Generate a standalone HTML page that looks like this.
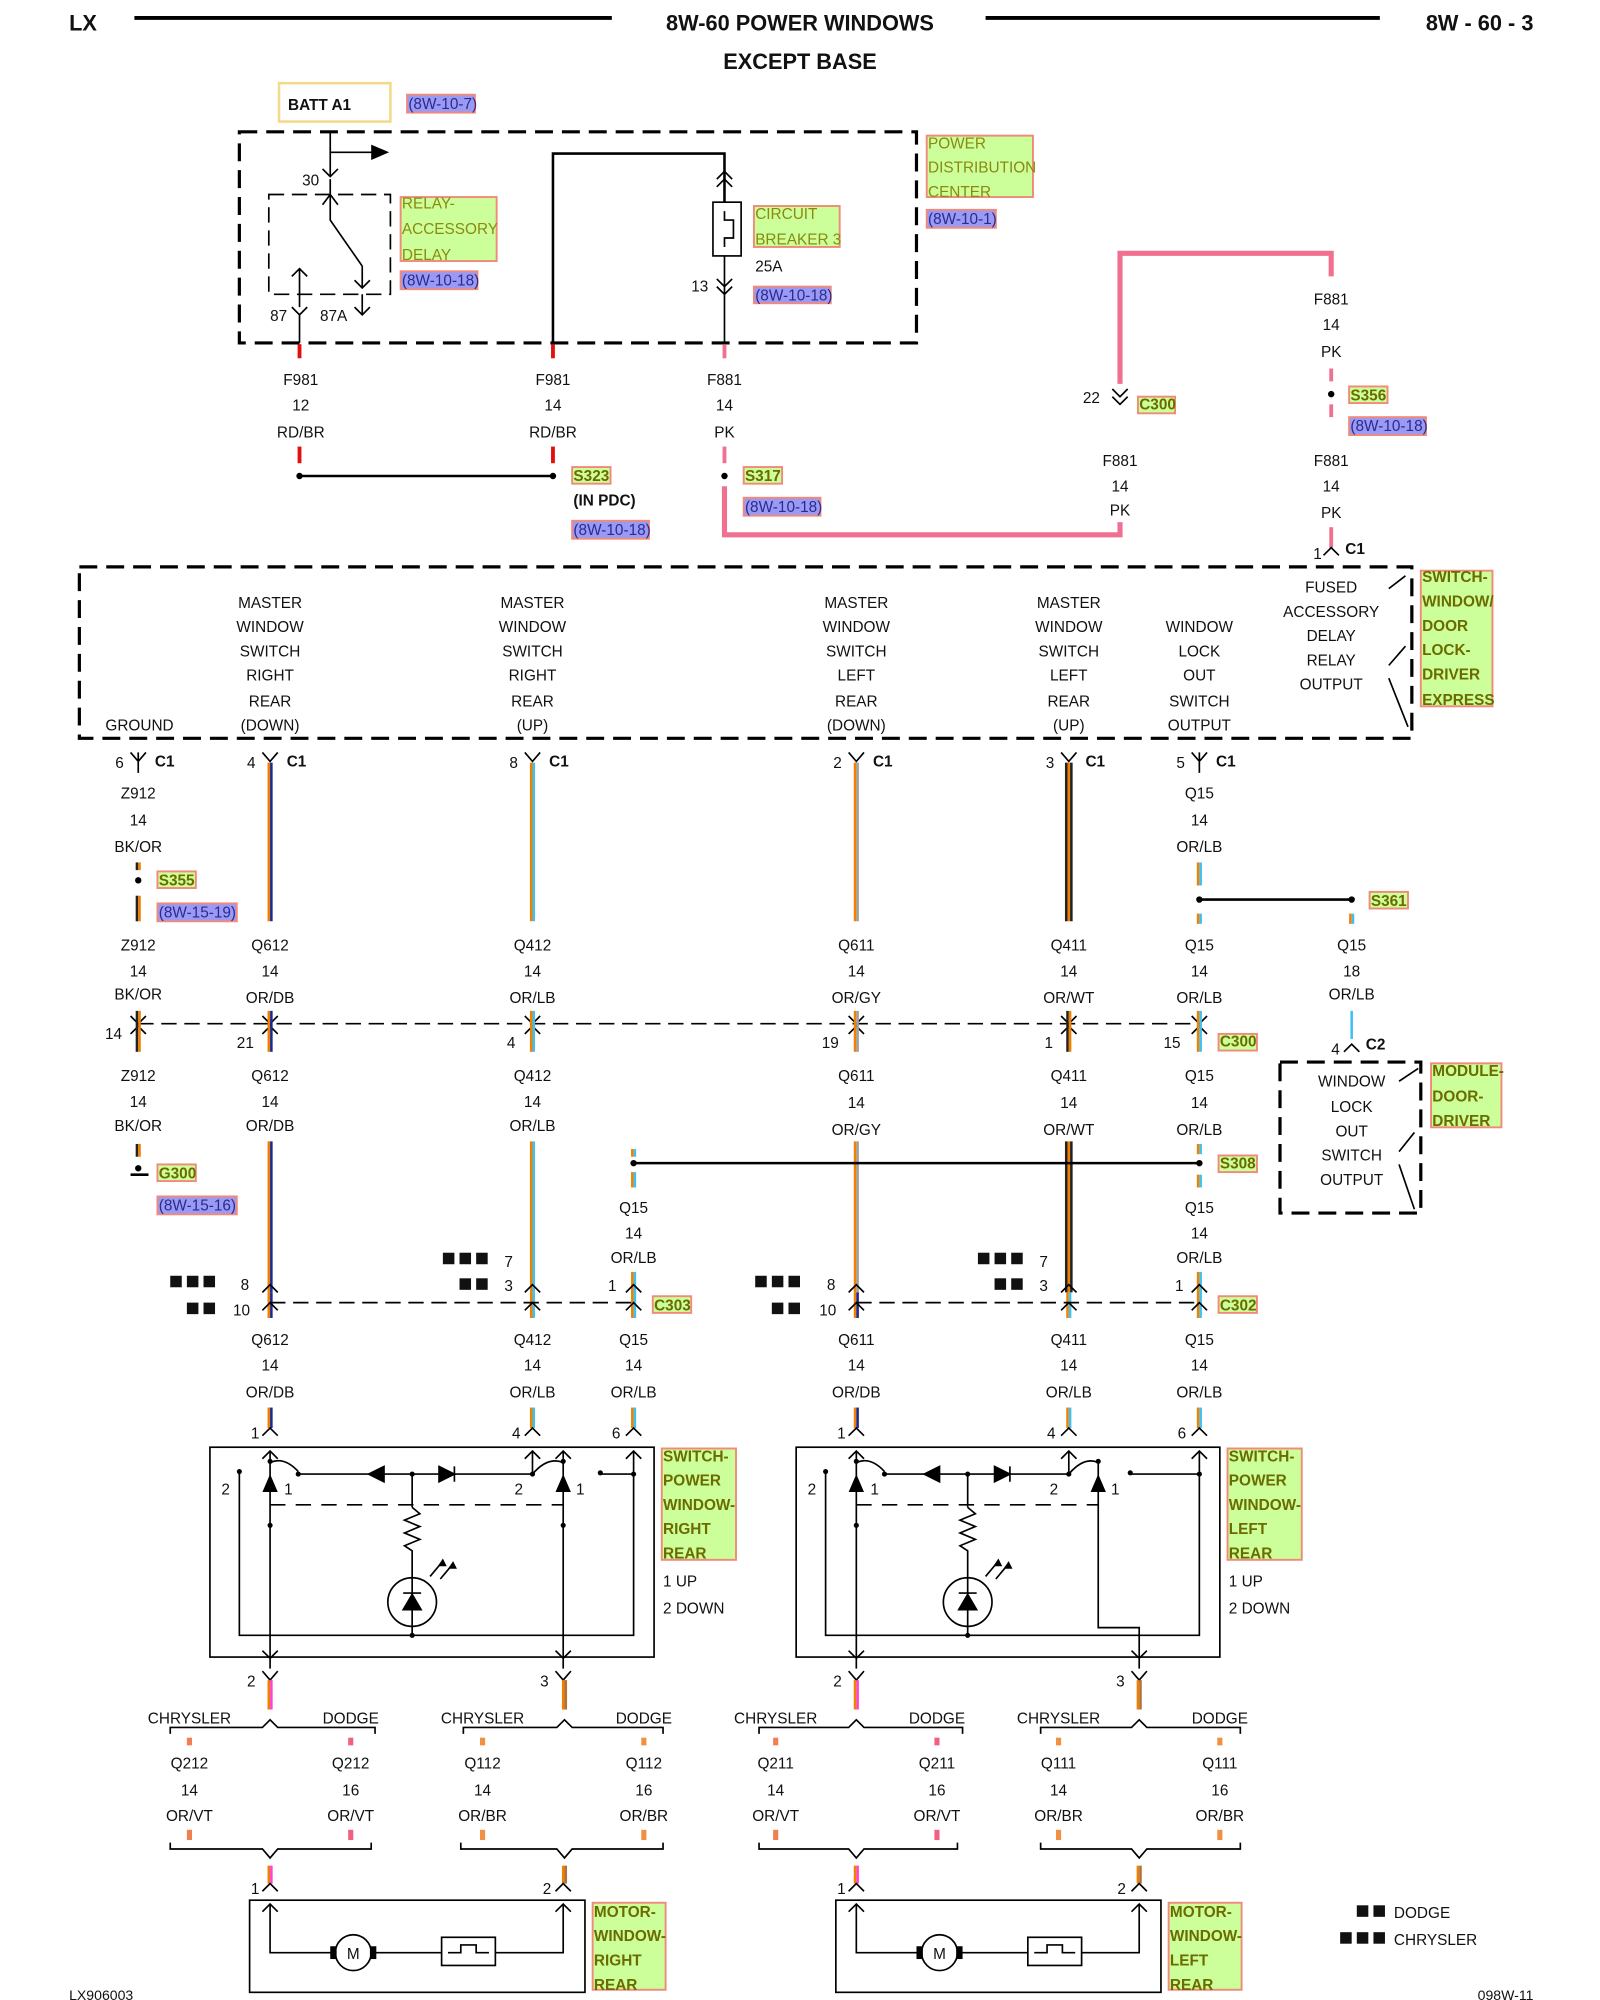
<!DOCTYPE html>
<html><head><meta charset="utf-8"><style>
html,body{margin:0;padding:0;background:#fff}
svg{display:block}
text{font-family:"Liberation Sans",sans-serif;font-size:12px;fill:#111}
.b{font-weight:bold}
.c{text-anchor:middle}
.g{fill:#ccff99;stroke:#f08a7a;stroke-width:1.5}
.p{fill:#9a9af5;stroke:#f08a7a;stroke-width:1.5}
.gt{fill:#8a8a10}
.gb{fill:#6b6b00;font-weight:bold}
.pt{fill:#2a2a90}
.w{stroke:#000;stroke-width:2;fill:none}
.t{stroke:#000;stroke-width:1.3;fill:none}
.d{stroke:#000;stroke-width:2.5;fill:none;stroke-dasharray:14 7}
.dt{stroke:#000;stroke-width:1.3;fill:none;stroke-dasharray:12 6}
.pk{stroke:#f07090;stroke-width:4;fill:none}
</style></head><body>
<svg width="1600" height="2000" viewBox="0 0 1250 1563" preserveAspectRatio="none" xmlns="http://www.w3.org/2000/svg">
<rect width="1250" height="1563" fill="#fff"/>
<text x="54" y="24" class="b" style="font-size:17px">LX</text>
<line x1="105" y1="14" x2="478" y2="14" stroke="#000" stroke-width="3"/>
<text x="625" y="24" class="b c" style="font-size:17px">8W-60 POWER WINDOWS</text>
<line x1="770" y1="14" x2="1078" y2="14" stroke="#000" stroke-width="3"/>
<text x="1198" y="24" class="b" style="font-size:17px;text-anchor:end">8W - 60 - 3</text>
<text x="625" y="54" class="b c" style="font-size:17px">EXCEPT BASE</text>

<rect x="218" y="65" width="87" height="30" fill="none" stroke="#f5d98a" stroke-width="2"/>
<text x="225" y="86" class="b">BATT A1</text>
<rect x="318" y="74" width="53" height="14" class="p"/><text x="319" y="85" class="pt">(8W-10-7)</text>

<rect x="187" y="103" width="529" height="165" class="d"/>
<rect x="724" y="106" width="83" height="48" class="g"/>
<text x="725" y="116" class="gt">POWER</text><text x="725" y="135" class="gt">DISTRIBUTION</text><text x="725" y="154" class="gt">CENTER</text>
<rect x="724" y="164" width="54" height="14" class="p"/><text x="725" y="175" class="pt">(8W-10-1)</text>
<path class="t" d="M258 103V138 M258 119H295"/><path d="M290 113L304 119L290 125Z"/>
<path class="t" d="M252 132L258 138L264 132"/>
<text x="236" y="145">30</text>
<rect x="210" y="152" width="95" height="78" class="dt"/>
<path class="t" d="M258 140V172L283 208 M252 160L258 152L264 160 M234 210V240 M228 216L234 210L240 216 M283 208V225 M277 219L283 225L289 219 M283 230V246"/>
<path class="t" d="M228 240L234 246L240 240 M234 246V268 M277 240L283 246L289 240"/>
<text x="211" y="251">87</text><text x="250" y="251">87A</text>
<rect x="313" y="154" width="75" height="50" class="g"/>
<text x="314" y="163" class="gt">RELAY-</text><text x="314" y="183" class="gt">ACCESSORY</text><text x="314" y="203" class="gt">DELAY</text>
<rect x="313" y="212" width="60" height="14" class="p"/><text x="314" y="223" class="pt">(8W-10-18)</text>
<path class="w" d="M432 268V120H566V158"/>
<path class="t" d="M560 140L566 134L572 140 M560 146L566 140L572 146"/>
<rect x="557" y="158" width="22" height="42" class="t"/>
<path class="t" d="M566 165V172H573V186H566V193 M566 200V230 M560 218L566 224L572 218 M560 224L566 230L572 224 M566 230V268"/>
<text x="540" y="228">13</text><text x="590" y="212">25A</text>
<rect x="589" y="161" width="67" height="32" class="g"/>
<text x="590" y="171" class="gt">CIRCUIT</text><text x="590" y="191" class="gt">BREAKER 3</text>
<rect x="589" y="224" width="60" height="13" class="p"/><text x="590" y="235" class="pt">(8W-10-18)</text>
<line x1="234" y1="269" x2="234" y2="280" stroke="#e01010" stroke-width="3"/>
<line x1="432" y1="269" x2="432" y2="280" stroke="#e01010" stroke-width="3"/>
<line x1="566" y1="269" x2="566" y2="280" stroke="#f07090" stroke-width="3"/>
<text x="235" y="301" class="c">F981</text><text x="235" y="321" class="c">12</text><text x="235" y="342" class="c">RD/BR</text>
<text x="432" y="301" class="c">F981</text><text x="432" y="321" class="c">14</text><text x="432" y="342" class="c">RD/BR</text>
<text x="566" y="301" class="c">F881</text><text x="566" y="321" class="c">14</text><text x="566" y="342" class="c">PK</text>
<line x1="234" y1="349" x2="234" y2="362" stroke="#e01010" stroke-width="3"/>
<line x1="432" y1="349" x2="432" y2="362" stroke="#e01010" stroke-width="3"/>
<line x1="566" y1="349" x2="566" y2="362" stroke="#f07090" stroke-width="3"/>
<line x1="234" y1="372" x2="432" y2="372" class="w"/>
<circle cx="234" cy="372" r="2.5"/><circle cx="432" cy="372" r="2.5"/><circle cx="566" cy="372" r="2.5"/>
<rect x="447" y="365" width="30" height="13" class="g"/><text x="448" y="376" class="gb">S323</text>
<text x="448" y="395" class="b">(IN PDC)</text>
<rect x="447" y="407" width="60" height="14" class="p"/><text x="448" y="418" class="pt">(8W-10-18)</text>
<rect x="581" y="365" width="30" height="13" class="g"/><text x="582" y="376" class="gb">S317</text>
<rect x="581" y="389" width="60" height="14" class="p"/><text x="582" y="400" class="pt">(8W-10-18)</text>
<path class="pk" d="M566 380V418H875V408"/>
<path class="pk" d="M875 300V198H1040V216"/>
<path class="t" d="M869 304L875 310L881 304 M869 310L875 316L881 310"/>
<text x="846" y="315">22</text>
<rect x="889" y="310" width="29" height="13" class="g"/><text x="890" y="320" class="gb">C300</text>
<text x="875" y="364" class="c">F881</text><text x="875" y="384" class="c">14</text><text x="875" y="403" class="c">PK</text>
<text x="1040" y="238" class="c">F881</text><text x="1040" y="258" class="c">14</text><text x="1040" y="279" class="c">PK</text>
<line x1="1040" y1="288" x2="1040" y2="298" stroke="#f07090" stroke-width="3"/>
<circle cx="1040" cy="308" r="2.5"/>
<line x1="1040" y1="316" x2="1040" y2="326" stroke="#f07090" stroke-width="3"/>
<rect x="1054" y="302" width="30" height="13" class="g"/><text x="1055" y="313" class="gb">S356</text>
<rect x="1054" y="326" width="60" height="14" class="p"/><text x="1055" y="337" class="pt">(8W-10-18)</text>
<text x="1040" y="364" class="c">F881</text><text x="1040" y="384" class="c">14</text><text x="1040" y="405" class="c">PK</text>
<line x1="1040" y1="412" x2="1040" y2="428" stroke="#f07090" stroke-width="3"/>
<path class="t" d="M1034 434L1040 428L1046 434"/>
<text x="1026" y="437">1</text><text x="1051" y="433" class="b">C1</text>

<rect x="62" y="443" width="1041" height="134" class="d"/>
<path class="t" d="M1085 460L1098 450 M1085 520L1098 505 M1085 530L1100 568"/>
<rect x="1110" y="446" width="56" height="106" class="g"/>
<text x="1111" y="455" class="gb">SWITCH-</text><text x="1111" y="474" class="gb">WINDOW/</text><text x="1111" y="493" class="gb">DOOR</text><text x="1111" y="512" class="gb">LOCK-</text><text x="1111" y="531" class="gb">DRIVER</text><text x="1111" y="551" class="gb">EXPRESS</text>
<text x="109" y="571" class="c">GROUND</text>
<text x="211" y="475" class="c">MASTER</text><text x="211" y="494" class="c">WINDOW</text><text x="211" y="513" class="c">SWITCH</text><text x="211" y="532" class="c">RIGHT</text><text x="211" y="552" class="c">REAR</text><text x="211" y="571" class="c">(DOWN)</text>
<text x="416" y="475" class="c">MASTER</text><text x="416" y="494" class="c">WINDOW</text><text x="416" y="513" class="c">SWITCH</text><text x="416" y="532" class="c">RIGHT</text><text x="416" y="552" class="c">REAR</text><text x="416" y="571" class="c">(UP)</text>
<text x="669" y="475" class="c">MASTER</text><text x="669" y="494" class="c">WINDOW</text><text x="669" y="513" class="c">SWITCH</text><text x="669" y="532" class="c">LEFT</text><text x="669" y="552" class="c">REAR</text><text x="669" y="571" class="c">(DOWN)</text>
<text x="835" y="475" class="c">MASTER</text><text x="835" y="494" class="c">WINDOW</text><text x="835" y="513" class="c">SWITCH</text><text x="835" y="532" class="c">LEFT</text><text x="835" y="552" class="c">REAR</text><text x="835" y="571" class="c">(UP)</text>
<text x="937" y="494" class="c">WINDOW</text><text x="937" y="513" class="c">LOCK</text><text x="937" y="532" class="c">OUT</text><text x="937" y="552" class="c">SWITCH</text><text x="937" y="571" class="c">OUTPUT</text>
<text x="1040" y="463" class="c">FUSED</text><text x="1040" y="482" class="c">ACCESSORY</text><text x="1040" y="501" class="c">DELAY</text><text x="1040" y="520" class="c">RELAY</text><text x="1040" y="539" class="c">OUTPUT</text>
<path class="t" d="M102 588L108 595L114 588 M108 588V604 M205 588L211 595L217 588 M410 588L416 595L422 588 M663 588L669 595L675 588 M829 588L835 595L841 588 M931 588L937 595L943 588 M937 588V604"/>
<text x="90" y="600">6</text><text x="121" y="599" class="b">C1</text>
<text x="193" y="600">4</text><text x="224" y="599" class="b">C1</text>
<text x="398" y="600">8</text><text x="429" y="599" class="b">C1</text>
<text x="651" y="600">2</text><text x="682" y="599" class="b">C1</text>
<text x="817" y="600">3</text><text x="848" y="599" class="b">C1</text>
<text x="919" y="600">5</text><text x="950" y="599" class="b">C1</text>
<g stroke-width="2">
<line x1="210" y1="596" x2="210" y2="720" stroke="#f08000"/><line x1="212" y1="596" x2="212" y2="720" stroke="#1a2a90"/>
<line x1="415" y1="596" x2="415" y2="720" stroke="#f08000"/><line x1="417" y1="596" x2="417" y2="720" stroke="#40c0f0"/>
<line x1="668" y1="596" x2="668" y2="720" stroke="#f08000"/><line x1="670" y1="596" x2="670" y2="720" stroke="#a0a0a0"/>
<line x1="833" y1="596" x2="833" y2="720" stroke="#222"/><line x1="835" y1="596" x2="835" y2="720" stroke="#f08000"/><line x1="837" y1="596" x2="837" y2="720" stroke="#222"/>
<line x1="936" y1="674" x2="936" y2="692" stroke="#f08000"/><line x1="938" y1="674" x2="938" y2="692" stroke="#40c0f0"/>
<line x1="107" y1="674" x2="107" y2="680" stroke="#222"/><line x1="109" y1="674" x2="109" y2="680" stroke="#f08000"/>
<line x1="107" y1="700" x2="107" y2="720" stroke="#222"/><line x1="109" y1="700" x2="109" y2="720" stroke="#f08000"/>
<line x1="936" y1="714" x2="936" y2="722" stroke="#f08000"/><line x1="938" y1="714" x2="938" y2="722" stroke="#40c0f0"/>
<line x1="1055" y1="714" x2="1055" y2="722" stroke="#f08000"/><line x1="1057" y1="714" x2="1057" y2="722" stroke="#40c0f0"/>
</g>
<text x="108" y="624" class="c">Z912</text><text x="108" y="645" class="c">14</text><text x="108" y="666" class="c">BK/OR</text>
<text x="937" y="624" class="c">Q15</text><text x="937" y="645" class="c">14</text><text x="937" y="666" class="c">OR/LB</text>
<circle cx="108" cy="688" r="2.5"/>
<rect x="123" y="681" width="30" height="13" class="g"/><text x="124" y="692" class="gb">S355</text>
<rect x="123" y="706" width="62" height="14" class="p"/><text x="124" y="717" class="pt">(8W-15-19)</text>
<line x1="937" y1="703" x2="1056" y2="703" class="w"/><circle cx="937" cy="703" r="2.5"/><circle cx="1056" cy="703" r="2.5"/>
<rect x="1070" y="697" width="30" height="13" class="g"/><text x="1071" y="708" class="gb">S361</text>
<text x="108" y="743" class="c">Z912</text><text x="108" y="763" class="c">14</text><text x="108" y="781" class="c">BK/OR</text>
<text x="211" y="743" class="c">Q612</text><text x="211" y="763" class="c">14</text><text x="211" y="784" class="c">OR/DB</text>
<text x="416" y="743" class="c">Q412</text><text x="416" y="763" class="c">14</text><text x="416" y="784" class="c">OR/LB</text>
<text x="669" y="743" class="c">Q611</text><text x="669" y="763" class="c">14</text><text x="669" y="784" class="c">OR/GY</text>
<text x="835" y="743" class="c">Q411</text><text x="835" y="763" class="c">14</text><text x="835" y="784" class="c">OR/WT</text>
<text x="937" y="743" class="c">Q15</text><text x="937" y="763" class="c">14</text><text x="937" y="784" class="c">OR/LB</text>
<text x="1056" y="743" class="c">Q15</text><text x="1056" y="763" class="c">18</text><text x="1056" y="781" class="c">OR/LB</text>
<line x1="1056" y1="790" x2="1056" y2="812" stroke="#40c0f0" stroke-width="2"/>
<path class="t" d="M1050 822L1056 816L1062 822"/>
<text x="1040" y="824">4</text><text x="1067" y="820" class="b">C2</text>
<line x1="108" y1="800" x2="937" y2="800" class="dt"/>
<path class="t" d="M102 794L108 800L114 794 M102 808L108 802L114 808 M205 794L211 800L217 794 M205 808L211 802L217 808 M410 794L416 800L422 794 M410 808L416 802L422 808 M663 794L669 800L675 794 M663 808L669 802L675 808 M829 794L835 800L841 794 M829 808L835 802L841 808 M931 794L937 800L943 794 M931 808L937 802L943 808"/>
<g stroke-width="2">
<line x1="107" y1="790" x2="107" y2="822" stroke="#222"/><line x1="109" y1="790" x2="109" y2="822" stroke="#f08000"/>
<line x1="210" y1="790" x2="210" y2="822" stroke="#f08000"/><line x1="212" y1="790" x2="212" y2="822" stroke="#1a2a90"/>
<line x1="415" y1="790" x2="415" y2="822" stroke="#f08000"/><line x1="417" y1="790" x2="417" y2="822" stroke="#40c0f0"/>
<line x1="668" y1="790" x2="668" y2="822" stroke="#f08000"/><line x1="670" y1="790" x2="670" y2="822" stroke="#a0a0a0"/>
<line x1="834" y1="790" x2="834" y2="822" stroke="#222"/><line x1="836" y1="790" x2="836" y2="822" stroke="#f08000"/>
<line x1="936" y1="790" x2="936" y2="822" stroke="#f08000"/><line x1="938" y1="790" x2="938" y2="822" stroke="#40c0f0"/>
</g>
<text x="82" y="812">14</text><text x="185" y="819">21</text><text x="396" y="819">4</text><text x="642" y="819">19</text><text x="816" y="819">1</text><text x="909" y="819">15</text>
<rect x="952" y="808" width="30" height="13" class="g"/><text x="953" y="818" class="gb">C300</text>
<rect x="1000" y="830" width="110" height="118" class="d"/>
<text x="1056" y="849" class="c">WINDOW</text><text x="1056" y="869" class="c">LOCK</text><text x="1056" y="888" class="c">OUT</text><text x="1056" y="907" class="c">SWITCH</text><text x="1056" y="926" class="c">OUTPUT</text>
<path class="t" d="M1093 845L1108 835 M1093 900L1105 885 M1093 910L1105 945"/>
<rect x="1118" y="831" width="55" height="50" class="g"/>
<text x="1119" y="841" class="gb">MODULE-</text><text x="1119" y="861" class="gb">DOOR-</text><text x="1119" y="880" class="gb">DRIVER</text>
<text x="108" y="845" class="c">Z912</text><text x="108" y="865" class="c">14</text><text x="108" y="884" class="c">BK/OR</text>
<text x="211" y="845" class="c">Q612</text><text x="211" y="865" class="c">14</text><text x="211" y="884" class="c">OR/DB</text>
<text x="416" y="845" class="c">Q412</text><text x="416" y="865" class="c">14</text><text x="416" y="884" class="c">OR/LB</text>
<text x="669" y="845" class="c">Q611</text><text x="669" y="866" class="c">14</text><text x="669" y="887" class="c">OR/GY</text>
<text x="835" y="845" class="c">Q411</text><text x="835" y="866" class="c">14</text><text x="835" y="887" class="c">OR/WT</text>
<text x="937" y="845" class="c">Q15</text><text x="937" y="866" class="c">14</text><text x="937" y="887" class="c">OR/LB</text>
<g stroke-width="2">
<line x1="107" y1="894" x2="107" y2="904" stroke="#222"/><line x1="109" y1="894" x2="109" y2="904" stroke="#f08000"/>
<line x1="210" y1="892" x2="210" y2="1010" stroke="#f08000"/><line x1="212" y1="892" x2="212" y2="1010" stroke="#1a2a90"/>
<line x1="415" y1="892" x2="415" y2="1010" stroke="#f08000"/><line x1="417" y1="892" x2="417" y2="1010" stroke="#40c0f0"/>
<line x1="668" y1="892" x2="668" y2="1010" stroke="#f08000"/><line x1="670" y1="892" x2="670" y2="1010" stroke="#a0a0a0"/>
<line x1="833" y1="892" x2="833" y2="1010" stroke="#222"/><line x1="835" y1="892" x2="835" y2="1010" stroke="#f08000"/><line x1="837" y1="892" x2="837" y2="1010" stroke="#222"/>
<line x1="936" y1="894" x2="936" y2="902" stroke="#f08000"/><line x1="938" y1="894" x2="938" y2="902" stroke="#40c0f0"/>
<line x1="936" y1="918" x2="936" y2="928" stroke="#f08000"/><line x1="938" y1="918" x2="938" y2="928" stroke="#40c0f0"/>
<line x1="494" y1="898" x2="494" y2="904" stroke="#f08000"/><line x1="496" y1="898" x2="496" y2="904" stroke="#40c0f0"/>
<line x1="494" y1="916" x2="494" y2="928" stroke="#f08000"/><line x1="496" y1="916" x2="496" y2="928" stroke="#40c0f0"/>
<line x1="494" y1="994" x2="494" y2="1030" stroke="#f08000"/><line x1="496" y1="994" x2="496" y2="1030" stroke="#40c0f0"/>
<line x1="936" y1="994" x2="936" y2="1030" stroke="#f08000"/><line x1="938" y1="994" x2="938" y2="1030" stroke="#40c0f0"/>
<line x1="210" y1="1010" x2="210" y2="1030" stroke="#f08000"/><line x1="212" y1="1010" x2="212" y2="1030" stroke="#1a2a90"/>
<line x1="415" y1="1010" x2="415" y2="1030" stroke="#f08000"/><line x1="417" y1="1010" x2="417" y2="1030" stroke="#40c0f0"/>
<line x1="668" y1="1010" x2="668" y2="1030" stroke="#f08000"/><line x1="670" y1="1010" x2="670" y2="1030" stroke="#1a2a90"/>
<line x1="834" y1="1010" x2="834" y2="1030" stroke="#f08000"/><line x1="836" y1="1010" x2="836" y2="1030" stroke="#40c0f0"/>
</g>
<path class="w" d="M102 918H116"/><circle cx="108" cy="913" r="2.5"/>
<rect x="123" y="910" width="30" height="13" class="g"/><text x="124" y="921" class="gb">G300</text>
<rect x="123" y="935" width="62" height="14" class="p"/><text x="124" y="946" class="pt">(8W-15-16)</text>
<line x1="495" y1="909" x2="937" y2="909" class="w"/><circle cx="495" cy="909" r="2.5"/><circle cx="937" cy="909" r="2.5"/>
<rect x="952" y="903" width="30" height="13" class="g"/><text x="953" y="913" class="gb">S308</text>
<text x="495" y="948" class="c">Q15</text><text x="495" y="968" class="c">14</text><text x="495" y="987" class="c">OR/LB</text>
<text x="937" y="948" class="c">Q15</text><text x="937" y="968" class="c">14</text><text x="937" y="987" class="c">OR/LB</text>
<line x1="211" y1="1018" x2="495" y2="1018" class="dt"/><line x1="669" y1="1018" x2="937" y2="1018" class="dt"/>
<path class="t" d="M205 1010L211 1004L217 1010 M410 1010L416 1004L422 1010 M489 1010L495 1004L501 1010 M663 1010L669 1004L675 1010 M829 1010L835 1004L841 1010 M931 1010L937 1004L943 1010 M205 1024L211 1018L217 1024 M410 1024L416 1018L422 1024 M489 1024L495 1018L501 1024 M663 1024L669 1018L675 1024 M829 1024L835 1018L841 1024 M931 1024L937 1018L943 1024"/>
<text x="188" y="1008">8</text><text x="182" y="1028">10</text>
<text x="394" y="990">7</text><text x="394" y="1009">3</text><text x="475" y="1009">1</text>
<text x="646" y="1008">8</text><text x="640" y="1028">10</text>
<text x="812" y="990">7</text><text x="812" y="1009">3</text><text x="918" y="1009">1</text>
<rect x="510" y="1013" width="30" height="13" class="g"/><text x="511" y="1024" class="gb">C303</text>
<rect x="952" y="1013" width="30" height="13" class="g"/><text x="953" y="1024" class="gb">C302</text>
<g fill="#111">
<rect x="133" y="997" width="9" height="9"/><rect x="146" y="997" width="9" height="9"/><rect x="159" y="997" width="9" height="9"/>
<rect x="146" y="1018" width="9" height="9"/><rect x="159" y="1018" width="9" height="9"/>
<rect x="346" y="979" width="9" height="9"/><rect x="359" y="979" width="9" height="9"/><rect x="372" y="979" width="9" height="9"/>
<rect x="359" y="999" width="9" height="9"/><rect x="372" y="999" width="9" height="9"/>
<rect x="590" y="997" width="9" height="9"/><rect x="603" y="997" width="9" height="9"/><rect x="616" y="997" width="9" height="9"/>
<rect x="603" y="1018" width="9" height="9"/><rect x="616" y="1018" width="9" height="9"/>
<rect x="764" y="979" width="9" height="9"/><rect x="777" y="979" width="9" height="9"/><rect x="790" y="979" width="9" height="9"/>
<rect x="777" y="999" width="9" height="9"/><rect x="790" y="999" width="9" height="9"/>
<rect x="1060" y="1489" width="9" height="9"/><rect x="1073" y="1489" width="9" height="9"/>
<rect x="1047" y="1510" width="9" height="9"/><rect x="1060" y="1510" width="9" height="9"/><rect x="1073" y="1510" width="9" height="9"/>
</g>
<text x="1089" y="1499">DODGE</text><text x="1089" y="1520">CHRYSLER</text>
<text x="211" y="1051" class="c">Q612</text><text x="211" y="1071" class="c">14</text><text x="211" y="1092" class="c">OR/DB</text>
<text x="416" y="1051" class="c">Q412</text><text x="416" y="1071" class="c">14</text><text x="416" y="1092" class="c">OR/LB</text>
<text x="495" y="1051" class="c">Q15</text><text x="495" y="1071" class="c">14</text><text x="495" y="1092" class="c">OR/LB</text>
<text x="669" y="1051" class="c">Q611</text><text x="669" y="1071" class="c">14</text><text x="669" y="1092" class="c">OR/DB</text>
<text x="835" y="1051" class="c">Q411</text><text x="835" y="1071" class="c">14</text><text x="835" y="1092" class="c">OR/LB</text>
<text x="937" y="1051" class="c">Q15</text><text x="937" y="1071" class="c">14</text><text x="937" y="1092" class="c">OR/LB</text>
<g stroke-width="2">
<line x1="210" y1="1100" x2="210" y2="1116" stroke="#f08000"/><line x1="212" y1="1100" x2="212" y2="1116" stroke="#1a2a90"/>
<line x1="415" y1="1100" x2="415" y2="1116" stroke="#f08000"/><line x1="417" y1="1100" x2="417" y2="1116" stroke="#40c0f0"/>
<line x1="494" y1="1100" x2="494" y2="1116" stroke="#f08000"/><line x1="496" y1="1100" x2="496" y2="1116" stroke="#40c0f0"/>
<line x1="668" y1="1100" x2="668" y2="1116" stroke="#f08000"/><line x1="670" y1="1100" x2="670" y2="1116" stroke="#1a2a90"/>
<line x1="834" y1="1100" x2="834" y2="1116" stroke="#f08000"/><line x1="836" y1="1100" x2="836" y2="1116" stroke="#40c0f0"/>
<line x1="936" y1="1100" x2="936" y2="1116" stroke="#f08000"/><line x1="938" y1="1100" x2="938" y2="1116" stroke="#40c0f0"/>
</g>

<!-- switch right rear -->
<path class="t" d="M205 1122L211 1116L217 1122 M410 1122L416 1116L422 1122 M489 1122L495 1116L501 1122"/>
<rect x="164" y="1131" width="347" height="164" class="t"/>
<path class="t" d="M205 1140L211 1134L217 1140 M211 1134V1296 M205 1290L211 1296L217 1290 M211 1296V1304"/>
<path class="t" d="M434 1140L440 1134L446 1140 M440 1134V1296 M434 1290L440 1296L446 1290 M440 1296V1304"/>
<path class="t" d="M410 1140L416 1134L422 1140 M416 1134V1152 M489 1140L495 1134L501 1140 M495 1134V1278H187V1150 M495 1152H470"/>
<path class="t" d="M211 1143Q222 1138 233 1150 M233 1152H416 M416 1152Q428 1138 440 1143 M322 1152V1178 M322 1178l6 5l-12 5l12 5l-12 5l12 5l-12 5l6 4V1278"/>
<circle cx="322" cy="1252" r="19" class="t"/>
<path d="M315 1258H329L322 1246Z M315 1245H329" stroke="#000" stroke-width="1.3"/>
<path d="M288 1152L300 1146V1158Z M300 1146V1158 M355 1152L343 1146V1158Z M355 1146V1158" stroke="#000" stroke-width="1.3"/>
<path d="M205 1166L211 1152L217 1166Z M434 1166L440 1152L446 1166Z"/>
<path class="t" d="M336 1232L346 1220 M344 1234L354 1222"/><path d="M346 1218L342 1224L349 1224Z M354 1220L350 1226L357 1226Z"/>
<path class="t" d="M211 1176H440" stroke-dasharray="12 8"/>
<circle cx="211" cy="1192" r="2"/><circle cx="440" cy="1192" r="2"/><circle cx="187" cy="1150" r="2"/><circle cx="322" cy="1152" r="2"/><circle cx="322" cy="1278" r="2"/><circle cx="211" cy="1142" r="2"/><circle cx="233" cy="1152" r="2"/><circle cx="416" cy="1152" r="2"/><circle cx="440" cy="1142" r="2"/><circle cx="495" cy="1152" r="2"/><circle cx="469" cy="1151" r="2"/>
<text x="196" y="1124">1</text><text x="400" y="1124">4</text><text x="478" y="1124">6</text>
<text x="173" y="1168">2</text><text x="222" y="1168">1</text><text x="402" y="1168">2</text><text x="450" y="1168">1</text>
<rect x="517" y="1132" width="58" height="87" class="g"/>
<text x="518" y="1142" class="gb">SWITCH-</text><text x="518" y="1161" class="gb">POWER</text><text x="518" y="1180" class="gb">WINDOW-</text><text x="518" y="1199" class="gb">RIGHT</text><text x="518" y="1218" class="gb">REAR</text>
<text x="518" y="1240">1 UP</text><text x="518" y="1261">2 DOWN</text>

<!-- switch left rear -->
<rect x="622" y="1131" width="331" height="164" class="t"/>
<path class="t" d="M663 1122L669 1116L675 1122 M829 1122L835 1116L841 1122 M931 1122L937 1116L943 1122"/>
<path class="t" d="M663 1140L669 1134L675 1140 M669 1134V1296 M663 1290L669 1296L675 1290 M669 1296V1304"/>
<path class="t" d="M829 1140L835 1134L841 1140 M835 1134V1152 M931 1140L937 1134L943 1140 M937 1134V1278H645V1150 M937 1152H883"/>
<path class="t" d="M669 1143Q680 1138 691 1150 M691 1152H835 M835 1152Q847 1138 858 1143 M858 1143V1272H890V1304 M884 1290L890 1296L896 1290 M756 1152V1178 M756 1178l6 5l-12 5l12 5l-12 5l12 5l-12 5l6 4V1278"/>
<circle cx="756" cy="1252" r="19" class="t"/>
<path d="M749 1258H763L756 1246Z M749 1245H763" stroke="#000" stroke-width="1.3"/>
<path d="M722 1152L734 1146V1158Z M734 1146V1158 M789 1152L777 1146V1158Z M789 1146V1158" stroke="#000" stroke-width="1.3"/>
<path d="M663 1166L669 1152L675 1166Z M852 1166L858 1152L864 1166Z"/>
<path class="t" d="M770 1232L780 1220 M778 1234L788 1222"/><path d="M780 1218L776 1224L783 1224Z M788 1220L784 1226L791 1226Z"/>
<path class="t" d="M669 1176H858" stroke-dasharray="12 8"/>
<circle cx="669" cy="1192" r="2"/><circle cx="645" cy="1150" r="2"/><circle cx="756" cy="1152" r="2"/><circle cx="756" cy="1278" r="2"/><circle cx="669" cy="1142" r="2"/><circle cx="691" cy="1152" r="2"/><circle cx="835" cy="1152" r="2"/><circle cx="858" cy="1142" r="2"/><circle cx="937" cy="1152" r="2"/><circle cx="883" cy="1151" r="2"/>
<text x="654" y="1124">1</text><text x="818" y="1124">4</text><text x="920" y="1124">6</text>
<text x="631" y="1168">2</text><text x="680" y="1168">1</text><text x="820" y="1168">2</text><text x="868" y="1168">1</text>
<rect x="959" y="1132" width="58" height="87" class="g"/>
<text x="960" y="1142" class="gb">SWITCH-</text><text x="960" y="1161" class="gb">POWER</text><text x="960" y="1180" class="gb">WINDOW-</text><text x="960" y="1199" class="gb">LEFT</text><text x="960" y="1218" class="gb">REAR</text>
<text x="960" y="1240">1 UP</text><text x="960" y="1261">2 DOWN</text>

<path class="t" d="M205 1306L211 1313L217 1306 M434 1306L440 1313L446 1306 M663 1306L669 1313L675 1306 M884 1306L890 1313L896 1306"/>
<text x="193" y="1318">2</text><text x="422" y="1318">3</text><text x="651" y="1318">2</text><text x="872" y="1318">3</text>
<g stroke-width="2">
<line x1="210" y1="1313" x2="210" y2="1336" stroke="#f08000"/><line x1="212" y1="1313" x2="212" y2="1336" stroke="#ff40d0"/>
<line x1="440" y1="1313" x2="440" y2="1336" stroke="#f08000"/><line x1="442" y1="1313" x2="442" y2="1336" stroke="#b07040"/>
<line x1="668" y1="1313" x2="668" y2="1336" stroke="#f08000"/><line x1="670" y1="1313" x2="670" y2="1336" stroke="#ff40d0"/>
<line x1="889" y1="1313" x2="889" y2="1336" stroke="#f08000"/><line x1="891" y1="1313" x2="891" y2="1336" stroke="#b07040"/>
</g>
<path class="t" d="M133 1355V1350H205L211 1344L217 1350H293V1355 M362 1355V1350H435L441 1344L447 1350H518V1355 M593 1355V1350H663L669 1344L675 1350H752V1355 M813 1355V1350H884L890 1344L896 1350H969V1355"/>
<text x="148" y="1347" class="c">CHRYSLER</text><text x="274" y="1347" class="c">DODGE</text>
<text x="377" y="1347" class="c">CHRYSLER</text><text x="503" y="1347" class="c">DODGE</text>
<text x="606" y="1347" class="c">CHRYSLER</text><text x="732" y="1347" class="c">DODGE</text>
<text x="827" y="1347" class="c">CHRYSLER</text><text x="953" y="1347" class="c">DODGE</text>
<g stroke-width="4">
<line x1="148" y1="1358" x2="148" y2="1364" stroke="#f08050"/><line x1="274" y1="1358" x2="274" y2="1364" stroke="#f06080"/>
<line x1="377" y1="1358" x2="377" y2="1364" stroke="#f09040"/><line x1="503" y1="1358" x2="503" y2="1364" stroke="#f09040"/>
<line x1="606" y1="1358" x2="606" y2="1364" stroke="#f08050"/><line x1="732" y1="1358" x2="732" y2="1364" stroke="#f06080"/>
<line x1="827" y1="1358" x2="827" y2="1364" stroke="#f09040"/><line x1="953" y1="1358" x2="953" y2="1364" stroke="#f09040"/>
<line x1="148" y1="1430" x2="148" y2="1438" stroke="#f08050"/><line x1="274" y1="1430" x2="274" y2="1438" stroke="#f06080"/>
<line x1="377" y1="1430" x2="377" y2="1438" stroke="#f09040"/><line x1="503" y1="1430" x2="503" y2="1438" stroke="#f09040"/>
<line x1="606" y1="1430" x2="606" y2="1438" stroke="#f08050"/><line x1="732" y1="1430" x2="732" y2="1438" stroke="#f06080"/>
<line x1="827" y1="1430" x2="827" y2="1438" stroke="#f09040"/><line x1="953" y1="1430" x2="953" y2="1438" stroke="#f09040"/>
</g>
<text x="148" y="1382" class="c">Q212</text><text x="148" y="1403" class="c">14</text><text x="148" y="1423" class="c">OR/VT</text>
<text x="274" y="1382" class="c">Q212</text><text x="274" y="1403" class="c">16</text><text x="274" y="1423" class="c">OR/VT</text>
<text x="377" y="1382" class="c">Q112</text><text x="377" y="1403" class="c">14</text><text x="377" y="1423" class="c">OR/BR</text>
<text x="503" y="1382" class="c">Q112</text><text x="503" y="1403" class="c">16</text><text x="503" y="1423" class="c">OR/BR</text>
<text x="606" y="1382" class="c">Q211</text><text x="606" y="1403" class="c">14</text><text x="606" y="1423" class="c">OR/VT</text>
<text x="732" y="1382" class="c">Q211</text><text x="732" y="1403" class="c">16</text><text x="732" y="1423" class="c">OR/VT</text>
<text x="827" y="1382" class="c">Q111</text><text x="827" y="1403" class="c">14</text><text x="827" y="1423" class="c">OR/BR</text>
<text x="953" y="1382" class="c">Q111</text><text x="953" y="1403" class="c">16</text><text x="953" y="1423" class="c">OR/BR</text>
<path class="t" d="M133 1440V1445H205L211 1452L217 1445H290V1440 M360 1440V1445H435L441 1452L447 1445H518V1440 M593 1440V1445H663L669 1452L675 1445H748V1440 M813 1440V1445H884L890 1452L896 1445H969V1440"/>
<g stroke-width="2">
<line x1="210" y1="1458" x2="210" y2="1472" stroke="#f08000"/><line x1="212" y1="1458" x2="212" y2="1472" stroke="#ff40d0"/>
<line x1="440" y1="1458" x2="440" y2="1472" stroke="#f08000"/><line x1="442" y1="1458" x2="442" y2="1472" stroke="#b07040"/>
<line x1="668" y1="1458" x2="668" y2="1472" stroke="#f08000"/><line x1="670" y1="1458" x2="670" y2="1472" stroke="#ff40d0"/>
<line x1="889" y1="1458" x2="889" y2="1472" stroke="#f08000"/><line x1="891" y1="1458" x2="891" y2="1472" stroke="#b07040"/>
</g>
<path class="t" d="M205 1478L211 1472L217 1478 M434 1478L440 1472L446 1478 M663 1478L669 1472L675 1478 M884 1478L890 1472L896 1478"/>
<text x="196" y="1480">1</text><text x="424" y="1480">2</text><text x="654" y="1480">1</text><text x="873" y="1480">2</text>
<rect x="195" y="1485" width="262" height="72" class="t"/>
<path class="t" d="M205 1494L211 1488L217 1494 M211 1488V1526H262 M290 1526H345 M387 1526H440V1488 M434 1494L440 1488L446 1494"/>
<circle cx="276" cy="1526" r="14" class="t"/><text x="276" y="1531" class="c">M</text>
<rect x="258" y="1521" width="5" height="10"/><rect x="289" y="1521" width="5" height="10"/>
<rect x="345" y="1514" width="42" height="22" class="t"/><path class="t" d="M350 1526H360V1520H372V1526H382"/>
<rect x="653" y="1485" width="254" height="72" class="t"/>
<path class="t" d="M663 1494L669 1488L675 1494 M669 1488V1526H720 M748 1526H803 M845 1526H890V1488 M884 1494L890 1488L896 1494"/>
<circle cx="734" cy="1526" r="14" class="t"/><text x="734" y="1531" class="c">M</text>
<rect x="716" y="1521" width="5" height="10"/><rect x="747" y="1521" width="5" height="10"/>
<rect x="803" y="1514" width="42" height="22" class="t"/><path class="t" d="M808 1526H818V1520H830V1526H840"/>
<rect x="463" y="1487" width="57" height="68" class="g"/>
<text x="464" y="1498" class="gb">MOTOR-</text><text x="464" y="1517" class="gb">WINDOW-</text><text x="464" y="1536" class="gb">RIGHT</text><text x="464" y="1555" class="gb">REAR</text>
<rect x="913" y="1487" width="57" height="68" class="g"/>
<text x="914" y="1498" class="gb">MOTOR-</text><text x="914" y="1517" class="gb">WINDOW-</text><text x="914" y="1536" class="gb">LEFT</text><text x="914" y="1555" class="gb">REAR</text>
<text x="54" y="1563" style="font-size:11px">LX906003</text>
<text x="1198" y="1563" style="font-size:11px;text-anchor:end">098W-11</text>
</svg>
</body></html>
